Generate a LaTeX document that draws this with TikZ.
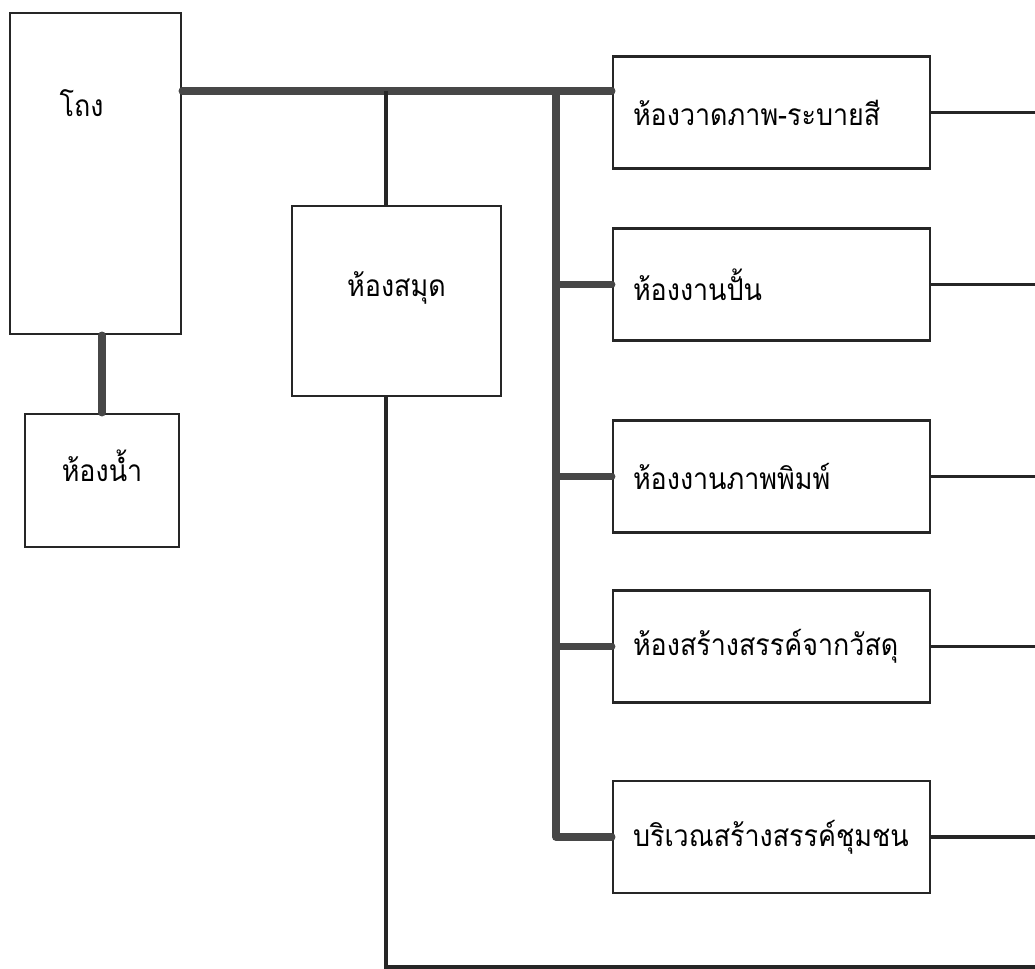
\documentclass[tikz,border=0pt]{standalone}
\usepackage{fontspec}
\newfontfamily\thaifont[Script=Thai, FakeStretch=0.9]{Loma}
\usetikzlibrary{positioning}

\begin{document}
\begin{tikzpicture}[
    roomname/.style={font=\thaifont\fontsize{17}{20}\selectfont},
    room/.style={draw=black!85, line width=1.6pt, inner sep=0pt, roomname},
    wing/.style={room, minimum width=6.34cm, minimum height=2.24cm, text width=5.54cm, inner xsep=0.4cm, align=left},
    bus/.style={draw=black!72, line width=4.4pt, line cap=round, line join=round},
    link/.style={draw=black!85, line width=2pt}
  ]
    \useasboundingbox (0,0) rectangle (20.7,-19.38);
    % rooms on the left
    \node[room, minimum width=3.42cm, minimum height=6.42cm,
      label={[roomname, xshift=-0.28cm, yshift=1.4cm]center:โถง}] (hall) at (1.91,-3.47) {};
    \node[room, minimum width=3.08cm, minimum height=2.66cm,
      label={[roomname, yshift=0.3cm]center:ห้องน้ำ}] (wc) at (2.04,-9.61) {};
    \node[room, minimum width=4.18cm, minimum height=3.80cm,
      label={[roomname, yshift=0.26cm]center:ห้องสมุด}] (library) at (7.93,-6.02) {};
    % studios on the right
    \node[wing] (r1) at (15.43,-2.25) {ห้องวาดภาพ-ระบายสี};
    \node[wing] (r2) at (15.43,-5.69) {ห้องงานปั้น};
    \node[wing] (r3) at (15.43,-9.53) {ห้องงานภาพพิมพ์};
    \node[wing] (r4) at (15.43,-12.93) {ห้องสร้างสรรค์จากวัสดุ};
    \node[wing] (r5) at (15.43,-16.74) {บริเวณสร้างสรรค์ชุมชน};

    \coordinate (bus) at (0,-1.82);
    \coordinate (spine) at (11.12,0);
    \coordinate (libx) at (7.72,0);
    \coordinate (edge) at (20.7,0);
    \coordinate (floor) at (0,-19.34);

    % main corridor
    \draw[bus] (hall.east |- bus) -- (r1.west |- bus);
    \draw[bus] (wc.north |- hall.south) -- (wc.north);
    \draw[bus] (spine |- bus) |- (r5.west);
    \foreach \r in {r2,r3,r4}
      \draw[bus] (spine |- \r.west) -- (\r.west);
    % thin links
    \draw[link] (libx |- bus) -- (libx |- library.north);
    \draw[link] (libx |- library.south) |- (edge |- floor);
    \foreach \r in {r1,r2,r3,r4,r5}
      \draw[link] (\r.east) -- (\r.east -| edge);
  \end{tikzpicture}
\end{document}
